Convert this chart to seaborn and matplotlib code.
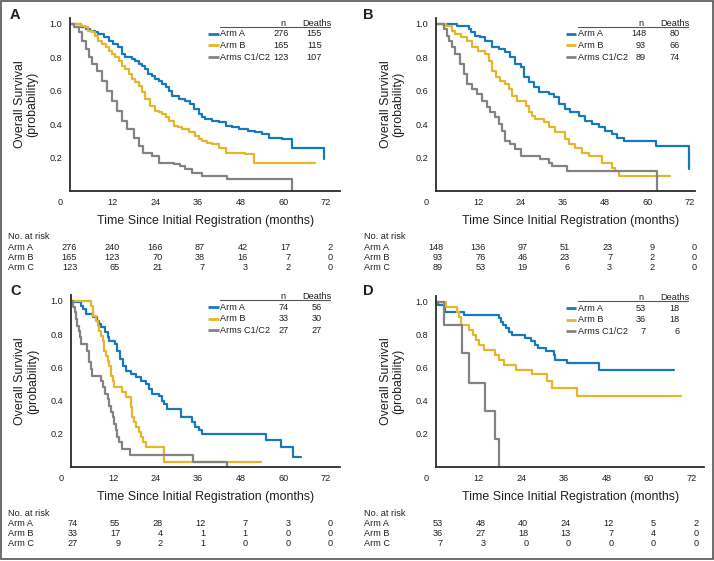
import matplotlib
matplotlib.use("Agg")
import numpy as np
import pandas as pd
import seaborn as sns
import matplotlib.pyplot as plt
from matplotlib import font_manager, transforms
from matplotlib.lines import Line2D
from matplotlib.patches import Rectangle

# ---------------- data ----------------
arm_labels = ["Arm A", "Arm B", "Arms C1/C2"]
risk_labels = ["Arm A", "Arm B", "Arm C"]
time_ticks = [0, 12, 24, 36, 48, 60, 72]
surv_ticks = [0.2, 0.4, 0.6, 0.8, 1.0]

# Panel A
A_armA_t = [0, 3, 4.5, 5.5, 7, 8, 9.5, 11, 12, 13.5, 14.6, 15.6, 17.5, 18.4, 19.5, 20.3, 21.2, 22, 23, 24, 25, 26,
            26.9, 27.8, 28.7, 30.6, 32.5, 33.9, 35, 36.2, 37.2, 38, 40, 41.9, 43.8, 45.6, 47.5, 50, 52, 54, 56, 59.7,
            62.5, 71.5]
A_armA_s = [1.0, 0.98, 0.97, 0.96, 0.95, 0.94, 0.92, 0.90, 0.88, 0.86, 0.82, 0.80, 0.79, 0.78, 0.76, 0.75, 0.73, 0.70,
            0.69, 0.67, 0.66, 0.64, 0.62, 0.60, 0.57, 0.55, 0.54, 0.52, 0.49, 0.46, 0.44, 0.43, 0.42, 0.41, 0.39, 0.38,
            0.37, 0.36, 0.35, 0.34, 0.32, 0.31, 0.26, 0.19]
A_armB_t = [0, 3, 4.3, 5.2, 6.2, 7, 8, 9, 10, 11, 11.8, 12.8, 13.7, 14.6, 15.6, 16.5, 17.5, 18.4, 19.3, 20.2, 21.2,
            22.6, 24, 25, 26, 27, 27.8, 29.2, 30.5, 31.5, 33.4, 35.3, 36.3, 37.2, 38.5, 40, 42, 43.8, 49.4, 51.7, 69]
A_armB_s = [1.0, 0.99, 0.98, 0.96, 0.95, 0.93, 0.90, 0.88, 0.86, 0.84, 0.82, 0.80, 0.78, 0.75, 0.73, 0.70, 0.67, 0.65,
            0.63, 0.59, 0.55, 0.51, 0.48, 0.47, 0.46, 0.44, 0.42, 0.39, 0.38, 0.37, 0.35, 0.33, 0.31, 0.30, 0.29, 0.28,
            0.26, 0.23, 0.22, 0.17, 0.17]
A_armC_t = [0, 1, 2.4, 3.5, 4.5, 5.3, 6.2, 7.6, 9, 10.4, 11.8, 13.2, 14.6, 16, 17.9, 19.3, 20.5, 23, 25, 29.2, 31,
            32.5, 34.4, 37.2, 44.2, 62.5]
A_armC_s = [1.0, 0.98, 0.95, 0.90, 0.85, 0.80, 0.76, 0.72, 0.66, 0.60, 0.54, 0.48, 0.42, 0.37, 0.32, 0.27, 0.23, 0.21,
            0.17, 0.16, 0.15, 0.13, 0.11, 0.09, 0.07, 0.0]

# Panel B
B_armA_t = [0, 6, 9.3, 10, 11, 12.5, 14, 15.9, 17.8, 19.7, 21, 22.5, 24, 25, 26.3, 27.7, 29.1, 32, 33.4, 34.8, 36.7,
            38.1, 40.5, 42.4, 44.3, 46.2, 48, 50, 51.4, 53.3, 62.3, 71.7]
B_armA_s = [1.0, 0.99, 0.97, 0.95, 0.93, 0.92, 0.90, 0.86, 0.85, 0.83, 0.80, 0.76, 0.74, 0.68, 0.65, 0.62, 0.59, 0.58,
            0.56, 0.52, 0.49, 0.47, 0.45, 0.42, 0.40, 0.38, 0.36, 0.34, 0.32, 0.30, 0.27, 0.13]
B_armB_t = [0, 2.8, 4.5, 5.5, 7, 8.8, 10.2, 12, 14, 15, 16, 17, 18.3, 19.7, 20.6, 21.6, 23, 25.4, 26.3, 27.2, 28.2,
            30.6, 32, 33.9, 36.7, 37.7, 39.5, 41.4, 43.3, 47.1, 50, 50.9, 51.8, 66.5]
B_armB_s = [1.0, 0.99, 0.96, 0.94, 0.92, 0.90, 0.86, 0.84, 0.82, 0.78, 0.72, 0.68, 0.66, 0.64, 0.61, 0.57, 0.54, 0.51,
            0.47, 0.45, 0.43, 0.41, 0.38, 0.35, 0.31, 0.28, 0.26, 0.23, 0.21, 0.17, 0.14, 0.12, 0.09, 0.09]
B_armC_t = [0, 2.2, 3, 3.6, 4.5, 5.5, 6.9, 7.9, 8.8, 10.2, 11.6, 13, 14.5, 15.4, 16.8, 17.8, 18.7, 19.7, 21.1, 22.5,
            24, 29.6, 32, 32.9, 37.2, 62.7]
B_armC_s = [1.0, 0.97, 0.93, 0.90, 0.86, 0.82, 0.76, 0.70, 0.64, 0.61, 0.58, 0.54, 0.50, 0.47, 0.44, 0.40, 0.36, 0.30,
            0.28, 0.25, 0.21, 0.19, 0.17, 0.15, 0.12, 0.0]

# Panel C
C_armA_t = [0, 1, 3, 3.5, 4.4, 6.2, 7.5, 8.1, 8.6, 9.6, 10.4, 10.9, 12.4, 13.2, 13.9, 14.8, 15.6, 16.9, 18.4, 19.7,
            21.2, 22, 23, 24.9, 25.8, 26.4, 27.1, 31, 34.2, 35.2, 36.1, 37, 55.2, 59.4, 62.7, 65]
C_armA_s = [1.0, 0.99, 0.97, 0.95, 0.92, 0.90, 0.88, 0.86, 0.84, 0.81, 0.78, 0.76, 0.74, 0.70, 0.65, 0.61, 0.58, 0.56,
            0.54, 0.52, 0.50, 0.47, 0.44, 0.43, 0.40, 0.38, 0.35, 0.30, 0.27, 0.24, 0.22, 0.20, 0.16, 0.12, 0.06, 0.06]
C_armB_t = [0, 5.8, 6.3, 7.2, 7.7, 8.1, 8.6, 9, 9.5, 10, 10.4, 10.9, 11.4, 11.9, 12.3, 14.6, 15.6, 16.9, 17.4, 17.9,
            18.4, 19.3, 19.8, 20.3, 21.2, 26.3, 53.8]
C_armB_s = [1.0, 0.97, 0.91, 0.88, 0.85, 0.82, 0.79, 0.76, 0.70, 0.67, 0.64, 0.61, 0.55, 0.52, 0.48, 0.45, 0.42, 0.36,
            0.30, 0.27, 0.24, 0.21, 0.18, 0.15, 0.12, 0.03, 0.03]
C_armC_t = [0, 0.7, 1.1, 1.5, 1.8, 2.3, 2.6, 3.0, 4.6, 5.1, 5.6, 6.1, 8.6, 9.2, 9.8, 10.4, 10.9, 11.4, 11.8, 12.3,
            12.8, 13.2, 13.7, 14.6, 16.8, 34.4, 44]
C_armC_s = [1.0, 0.96, 0.93, 0.89, 0.85, 0.82, 0.78, 0.74, 0.70, 0.63, 0.59, 0.55, 0.52, 0.48, 0.44, 0.41, 0.37, 0.33,
            0.30, 0.26, 0.22, 0.18, 0.15, 0.11, 0.07, 0.03, 0.0]

# Panel D
D_armA_t = [0, 0.5, 2.5, 7.8, 17.7, 18.2, 18.8, 19.6, 20.5, 21.3, 25, 26.9, 27.8, 28.8, 31.1, 33.2, 33.6, 37, 45.9, 67]
D_armA_s = [1.0, 0.98, 0.94, 0.92, 0.90, 0.88, 0.86, 0.84, 0.82, 0.80, 0.78, 0.76, 0.74, 0.72, 0.70, 0.68, 0.65, 0.63,
            0.59, 0.59]
D_armB_t = [0, 2.8, 5.9, 6.4, 7.0, 9.2, 10.3, 11.3, 12.2, 13.5, 16.7, 17.7, 19.1, 22.5, 27.1, 31.3, 32.7, 39.8, 69]
D_armB_s = [1.0, 0.97, 0.94, 0.91, 0.86, 0.83, 0.80, 0.77, 0.74, 0.71, 0.68, 0.65, 0.62, 0.59, 0.56, 0.52, 0.48, 0.43,
            0.43]
D_armC_t = [0, 2.2, 7.3, 9.2, 13.7, 16.7, 17.7]
D_armC_s = [1.0, 0.86, 0.69, 0.51, 0.34, 0.17, 0.0]

# n / deaths per panel
A_n, A_deaths = [276, 165, 123], [155, 115, 107]
B_n, B_deaths = [148, 93, 89], [80, 66, 74]
C_n, C_deaths = [74, 33, 27], [56, 30, 27]
D_n, D_deaths = [53, 36, 7], [18, 18, 6]

# numbers at risk
A_risk = [[276, 240, 166, 87, 42, 17, 2], [165, 123, 70, 38, 16, 7, 0], [123, 65, 21, 7, 3, 2, 0]]
B_risk = [[148, 136, 97, 51, 23, 9, 0], [93, 76, 46, 23, 7, 2, 0], [89, 53, 19, 6, 3, 2, 0]]
C_risk = [[74, 55, 28, 12, 7, 3, 0], [33, 17, 4, 1, 1, 0, 0], [27, 9, 2, 1, 0, 0, 0]]
D_risk = [[53, 48, 40, 24, 12, 5, 2], [36, 27, 18, 13, 7, 4, 0], [7, 3, 0, 0, 0, 0, 0]]

# ---------------- style ----------------
colors = ["#1878BE", "#E5B52B", "#838383"]
TEXT = "#231F20"

sns.set_theme(style="white")
plt.rcParams["font.family"] = ["Liberation Sans", "DejaVu Sans"]
plt.rcParams["text.color"] = TEXT


def has_font(name):
    try:
        font_manager.findfont(font_manager.FontProperties(family=name), fallback_to_default=False)
        return True
    except Exception:
        return False


NARROW = has_font("Liberation Sans Narrow")
LABEL_FAMILY = ["Liberation Sans Narrow", "Liberation Sans"] if NARROW else ["Liberation Sans"]
LABEL_SIZE = 10.6 if NARROW else 8.9
SMALL = 6.6

W, H = 714, 561
fig = plt.figure(figsize=(W / 100, H / 100), dpi=100)
fig.patch.set_facecolor("white")


def fx(px):
    return px / W


def fy(py):
    return 1 - py / H


panels = [
    dict(letter="A", rect=(70, 18, 340, 191), xmax=76, Lx=220, row0=10.0, tab=(8, 236.7), xlc=205.5,
         letter_pos=(15, 15), arms=[(A_armA_t, A_armA_s), (A_armB_t, A_armB_s), (A_armC_t, A_armC_s)],
         n=A_n, deaths=A_deaths, risk=A_risk),
    dict(letter="B", rect=(436, 18, 695, 191), xmax=73.5, Lx=577.5, row0=10.0, tab=(364, 236.7), xlc=571,
         letter_pos=(368, 15), arms=[(B_armA_t, B_armA_s), (B_armB_t, B_armB_s), (B_armC_t, B_armC_s)],
         n=B_n, deaths=B_deaths, risk=B_risk),
    dict(letter="C", rect=(70.7, 295, 340, 467), xmax=76, Lx=220, row0=6.3, tab=(8, 513), xlc=205.5,
         letter_pos=(15.5, 291), arms=[(C_armA_t, C_armA_s), (C_armB_t, C_armB_s), (C_armC_t, C_armC_s)],
         n=C_n, deaths=C_deaths, risk=C_risk),
    dict(letter="D", rect=(436, 296, 704, 467), xmax=75.5, Lx=577.5, row0=6.3, tab=(364, 513), xlc=571,
         letter_pos=(368, 291), arms=[(D_armA_t, D_armA_s), (D_armB_t, D_armB_s), (D_armC_t, D_armC_s)],
         n=D_n, deaths=D_deaths, risk=D_risk),
]

YTOP = 1.035

for p in panels:
    l, t, r, b = p["rect"]
    ax = fig.add_axes([fx(l), fy(b), (r - l) / W, (b - t) / H])

    frames = []
    for lab, (tt, ss) in zip(arm_labels, p["arms"]):
        frames.append(pd.DataFrame({"time": tt, "surv": ss, "arm": lab}))
    df = pd.concat(frames, ignore_index=True)
    sns.lineplot(data=df, x="time", y="surv", hue="arm", hue_order=arm_labels, palette=colors,
                 estimator=None, sort=False, drawstyle="steps-post", lw=1.6, legend=False, ax=ax)

    ax.set_xlim(0, p["xmax"])
    ax.set_ylim(0, YTOP)
    ax.set_xticks(time_ticks)
    ax.set_xticklabels(["" if v == 0 else str(v) for v in time_ticks])
    ax.set_yticks(surv_ticks)
    ax.set_yticklabels([f"{v:.1f}" for v in surv_ticks])
    ax.tick_params(axis="y", length=2.2, width=0.9, color="#2b2b2b", direction="out",
                   labelsize=SMALL, pad=3.2, colors=TEXT)
    ax.tick_params(axis="y", color="#2b2b2b")
    ax.tick_params(axis="x", length=0, labelsize=SMALL, pad=5, colors=TEXT)
    ax.set_xlabel("")
    ax.set_ylabel("")
    ax.set_facecolor("white")
    ax.grid(False)
    sns.despine(ax=ax)
    for s in ("left", "bottom"):
        ax.spines[s].set_color("#2b2b2b")
        ax.spines[s].set_linewidth(1.3)

    # origin "0" label, offset to the left of the spine
    ax.text(0, 0, "0", fontsize=SMALL, color=TEXT, ha="center", va="top",
            transform=transforms.offset_copy(ax.get_xaxis_transform(), fig=fig, x=-7.2, y=-5, units="points"))

    # axis titles
    fig.text(fx(l - 44), fy((t + b) / 2), "Overall Survival\n(probability)", rotation=90, ha="center",
             va="center", multialignment="center", linespacing=1.05, fontsize=LABEL_SIZE, family=LABEL_FAMILY)
    fig.text(fx(p["xlc"]), fy(b + 30), "Time Since Initial Registration (months)", ha="center", va="center",
             fontsize=LABEL_SIZE, family=LABEL_FAMILY)

    # panel letter
    fig.text(fx(p["letter_pos"][0]), fy(p["letter_pos"][1]), p["letter"], fontsize=10.5, fontweight="bold",
             ha="center", va="center")

    # legend table
    Y1 = b - (b - t) / YTOP
    Lx = p["Lx"]
    y0 = Y1 + p["row0"]
    fig.text(fx(Lx + 63), fy(y0 - 10.3), "n", ha="center", va="center", fontsize=SMALL)
    fig.text(fx(Lx + 97), fy(y0 - 10.3), "Deaths", ha="center", va="center", fontsize=SMALL)
    fig.add_artist(Line2D([fx(Lx), fx(Lx + 110)], [fy(y0 - 6.7), fy(y0 - 6.7)], transform=fig.transFigure,
                          color="#555555", lw=0.8))
    for i, lab in enumerate(arm_labels):
        y = y0 + i * 11.6
        fig.add_artist(Line2D([fx(Lx - 12), fx(Lx - 1.5)], [fy(y), fy(y)], transform=fig.transFigure,
                              color=colors[i], lw=2.0, solid_capstyle="butt"))
        fig.text(fx(Lx), fy(y), lab, ha="left", va="center", fontsize=SMALL)
        fig.text(fx(Lx + 68.5), fy(y), str(p["n"][i]), ha="right", va="center", fontsize=SMALL)
        fig.text(fx(Lx + 102), fy(y), str(p["deaths"][i]), ha="right", va="center", fontsize=SMALL)

    # numbers at risk
    tx, ty = p["tab"]
    fig.text(fx(tx), fy(ty), "No. at risk", ha="left", va="center", fontsize=SMALL)
    blend = transforms.blended_transform_factory(ax.transData, fig.transFigure)
    for i, lab in enumerate(risk_labels):
        yy = ty + 10.3 + i * 10.0
        fig.text(fx(tx), fy(yy), lab, ha="left", va="center", fontsize=SMALL)
        for tm, val in zip(time_ticks, p["risk"][i]):
            ax.text(tm + 2.0, fy(yy), str(val), ha="right", va="center", fontsize=SMALL,
                    transform=blend, clip_on=False)

# outer frame
fig.add_artist(Rectangle((fx(1), fy(559)), fx(712), 558 / H, transform=fig.transFigure, fill=False,
                         ec="#555555", lw=1.2))

fig.savefig("out.png", dpi=100, facecolor="white")
